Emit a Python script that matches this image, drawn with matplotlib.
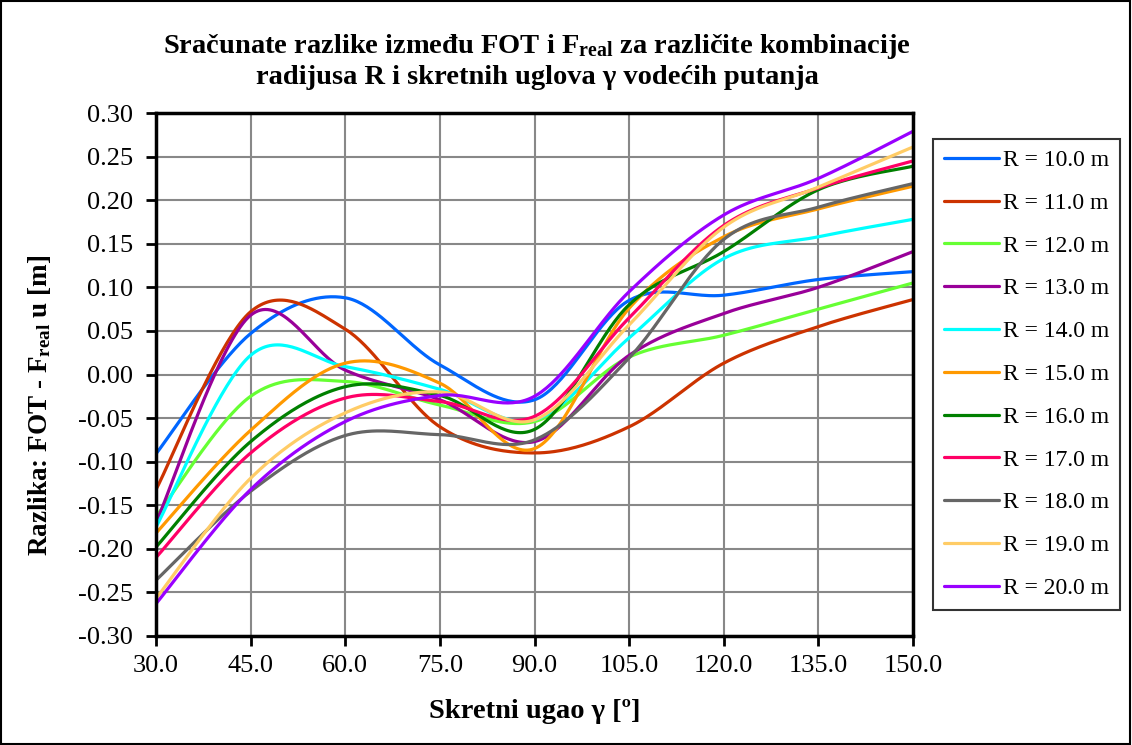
import numpy as np
import matplotlib
matplotlib.use("Agg")
from matplotlib import pyplot as plt
from matplotlib.patches import Rectangle

plt.rcParams['font.family'] = ['Liberation Serif', 'DejaVu Serif']
plt.rcParams['mathtext.fontset'] = 'custom'
plt.rcParams['mathtext.rm'] = 'Liberation Serif:bold'
plt.rcParams['mathtext.it'] = 'Liberation Serif:bold'
plt.rcParams['mathtext.bf'] = 'Liberation Serif:bold'

# skretni ugao (stepeni)
angles = [30, 45, 60, 75, 90, 105, 120, 135, 150]

r10 = [-0.091, 0.047, 0.088, 0.011, -0.029, 0.085, 0.091, 0.109, 0.118]
r11 = [-0.132, 0.072, 0.052, -0.060, -0.090, -0.060, 0.013, 0.055, 0.086]
r12 = [-0.163, -0.025, -0.008, -0.035, -0.054, 0.020, 0.045, 0.075, 0.105]
r13 = [-0.170, 0.068, 0.005, -0.029, -0.077, 0.022, 0.070, 0.100, 0.141]
r14 = [-0.175, 0.022, 0.009, -0.017, -0.052, 0.042, 0.133, 0.158, 0.178]
r15 = [-0.182, -0.064, 0.013, -0.010, -0.085, 0.076, 0.158, 0.190, 0.216]
r16 = [-0.198, -0.077, -0.014, -0.024, -0.063, 0.080, 0.141, 0.212, 0.239]
r17 = [-0.210, -0.090, -0.027, -0.031, -0.048, 0.065, 0.171, 0.214, 0.245]
r18 = [-0.236, -0.134, -0.070, -0.069, -0.075, 0.019, 0.155, 0.192, 0.219]
r19 = [-0.257, -0.119, -0.044, -0.020, -0.052, 0.057, 0.169, 0.215, 0.261]
r20 = [-0.263, -0.132, -0.054, -0.024, -0.025, 0.095, 0.183, 0.225, 0.279]

labels = ["R = 10.0 m", "R = 11.0 m", "R = 12.0 m", "R = 13.0 m", "R = 14.0 m",
          "R = 15.0 m", "R = 16.0 m", "R = 17.0 m", "R = 18.0 m", "R = 19.0 m",
          "R = 20.0 m"]
colors = ["#0066FF", "#CC3300", "#66FF33", "#990099", "#00FFFF", "#FF9900",
          "#008000", "#FF0066", "#666666", "#FFCC66", "#9900FF"]

xticks = [30, 45, 60, 75, 90, 105, 120, 135, 150]
xtick_labels = ["30.0", "45.0", "60.0", "75.0", "90.0", "105.0", "120.0", "135.0", "150.0"]
yticks = [-0.30, -0.25, -0.20, -0.15, -0.10, -0.05, 0.0, 0.05, 0.10, 0.15, 0.20, 0.25, 0.30]
ytick_labels = ["-0.30", "-0.25", "-0.20", "-0.15", "-0.10", "-0.05", "0.00",
                "0.05", "0.10", "0.15", "0.20", "0.25", "0.30"]


def smooth(xs, ys, n=40):
    # glatka linija kao u Excelu (Bezier / Catmull-Rom)
    px = np.array(xs, dtype=float)
    py = np.array(ys, dtype=float)
    m = len(px)
    outx = []
    outy = []
    t = np.linspace(0, 1, n)
    for i in range(m - 1):
        i0 = max(i - 1, 0)
        i3 = min(i + 2, m - 1)
        c1x = px[i] + (px[i + 1] - px[i0]) / 6.0
        c1y = py[i] + (py[i + 1] - py[i0]) / 6.0
        c2x = px[i + 1] - (px[i3] - px[i]) / 6.0
        c2y = py[i + 1] - (py[i3] - py[i]) / 6.0
        bx = ((1 - t) ** 3) * px[i] + 3 * ((1 - t) ** 2) * t * c1x + 3 * (1 - t) * t ** 2 * c2x + t ** 3 * px[i + 1]
        by = ((1 - t) ** 3) * py[i] + 3 * ((1 - t) ** 2) * t * c1y + 3 * (1 - t) * t ** 2 * c2y + t ** 3 * py[i + 1]
        outx.extend(bx)
        outy.extend(by)
    return outx, outy


series = [r10, r11, r12, r13, r14, r15, r16, r17, r18, r19, r20]

fig = plt.figure(figsize=(11.32, 7.45), dpi=100)
ax = fig.add_axes([156 / 1132, 1 - 636 / 745, (913 - 156) / 1132, (636 - 113) / 745])

for vals, lab, col in zip(series, labels, colors):
    sx, sy = smooth(angles, vals)
    ax.plot(sx, sy, color=col, lw=2.3, label=lab, solid_capstyle="round")

ax.set_xlim(30, 150)
ax.set_ylim(-0.30, 0.30)
ax.set_xticks(xticks)
ax.set_xticklabels(xtick_labels)
ax.set_yticks(yticks)
ax.set_yticklabels(ytick_labels)
ax.grid(True, color="#888888", lw=1.5)
ax.set_axisbelow(True)
for sp in ax.spines.values():
    sp.set_color("black")
    sp.set_linewidth(2.5)
ax.tick_params(direction="out", length=7, width=2, labelsize=19)
ax.tick_params(axis="y", pad=9.5)
ax.tick_params(axis="x", pad=7)

fig.text(537 / 1132, 1 - 61 / 745,
         "Sračunate razlike između FOT i F$_{\\mathrm{real}}$ za različite kombinacije\n"
         "radijusa R i skretnih uglova γ vodećih putanja",
         ha="center", va="center", fontsize=20.5, fontweight="bold", linespacing=1.2)

fig.text(40 / 1132, 1 - 405 / 745, "Razlika: FOT - F$_{\\mathrm{real}}$ u [m]",
         rotation=90, ha="center", va="center", fontsize=19.5, fontweight="bold")
fig.text(535 / 1132, 1 - 712 / 745, "Skretni ugao γ [º]",
         ha="center", va="center", fontsize=20.5, fontweight="bold")

leg = fig.legend(loc="upper left", bbox_to_anchor=(933 / 1132, 1 - 139 / 745),
                 fontsize=17, frameon=True, fancybox=False, edgecolor="black",
                 labelspacing=0.9, handlelength=2.35, handletextpad=0.15,
                 borderpad=0.45, borderaxespad=0)
leg.get_frame().set_linewidth(1.5)

fig.patches.append(Rectangle((0.001, 0.001), 0.997, 0.997, transform=fig.transFigure,
                             fill=False, edgecolor="black", lw=1.5))

fig.savefig("out.png", dpi=100)
